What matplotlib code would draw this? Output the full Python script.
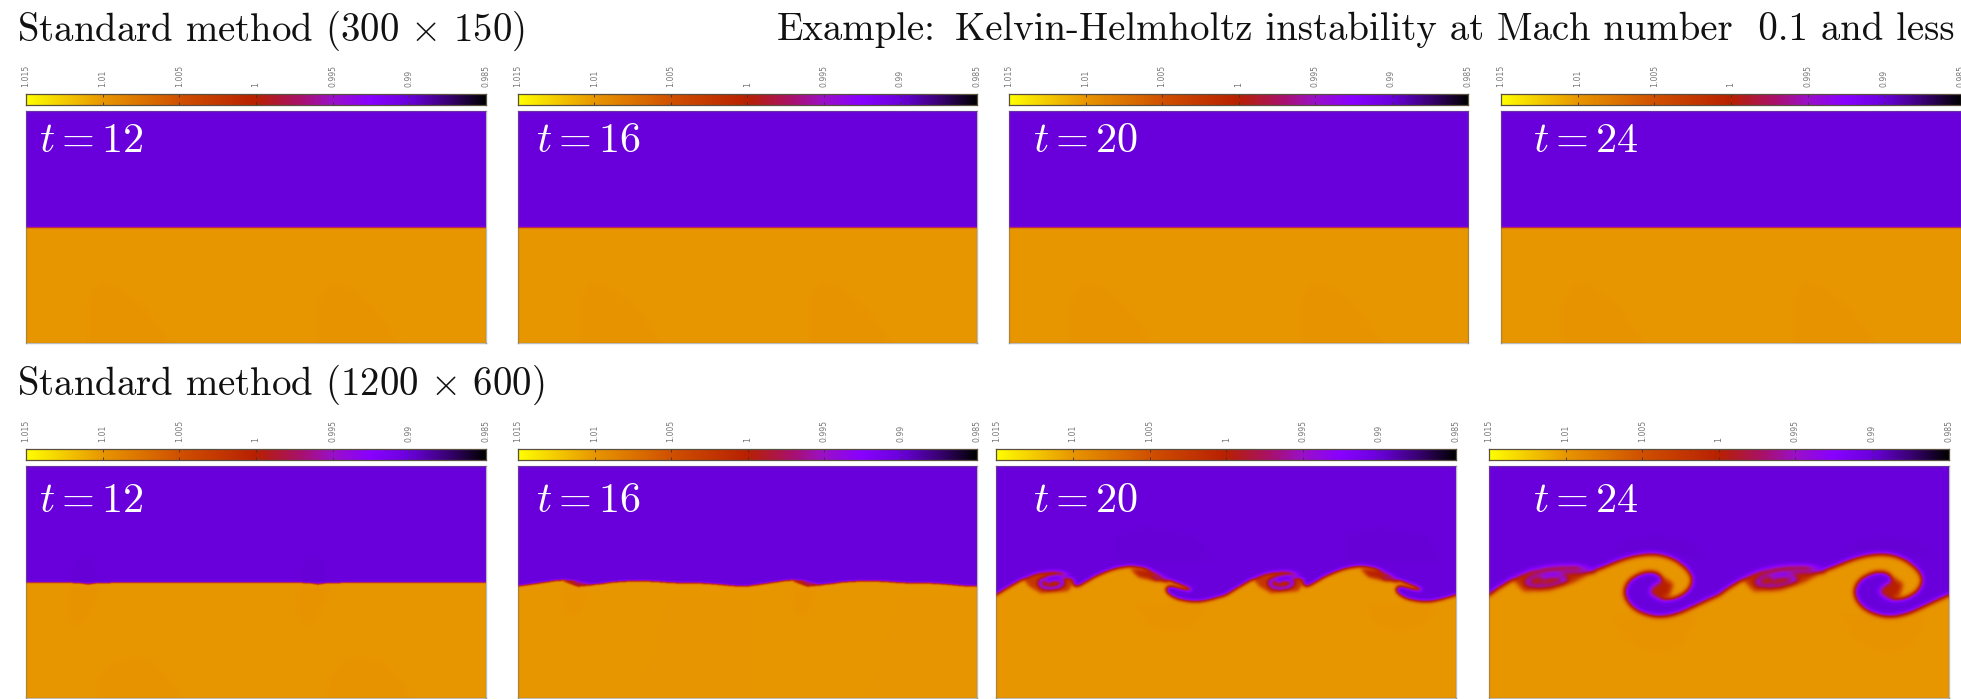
import numpy as np
import matplotlib
matplotlib.use('Agg')
import matplotlib.pyplot as plt
from matplotlib.colors import LinearSegmentedColormap
from matplotlib.path import Path

plt.rcParams['mathtext.fontset'] = 'cm'
plt.rcParams['axes.unicode_minus'] = False

W, H = 1961, 699
PW, PH = 460, 232  # panel size, the flow repeats twice across it
SS = 2

# colour scale
bar_ticks = [1.015, 1.01, 1.005, 1.0, 0.995, 0.99, 0.985]
bar_labels = ['1.015', '1.01', '1.005', '1', '0.995', '0.99', '0.985']
cmap_pos = [0, 1/6, 1/3, 1/2, 0.6, 2/3, 0.75, 5/6, 0.92, 1]
cmap_col = ['#ffff00', '#e89600', '#d05000', '#b82000', '#a81070', '#9a10c8',
            '#8800ff', '#6a00dc', '#380070', '#000000']
heavy_val = 1.01
light_val = 0.99

times = [12, 16, 20, 24]

# interface of one period, x from left, y from top, in panel pixels
flat_low = [(0, 116.7), (230, 116.7)]
edge_12 = [(0, 116.6), (47, 116.6), (62, 117.4), (78, 116.6), (230, 116.6)]
edge_16 = [(0, 120), (15, 118), (28, 116), (42, 114), (55, 114.5), (67, 117), (73, 118.5),
           (82, 118), (95, 116), (112, 115), (132, 115), (158, 117), (182, 117),
           (198, 118), (218, 120), (230, 120)]
edge_20 = [(0, 129), (13, 121), (27, 113), (43, 107), (60, 105), (73, 108), (78, 114),
           (77, 119), (81, 121), (90, 116), (100, 110), (117, 103), (133, 100), (150, 102),
           (163, 108), (172, 114), (183, 118), (198, 124), (190, 124), (180, 121),
           (172, 119.5), (169, 125), (178, 132), (190, 135), (203, 136), (217, 133), (230, 129)]
edge_24 = [(0, 129), (11, 121), (28, 111), (48, 103), (68, 100), (88, 100), (103, 103),
           (108, 104), (120, 99), (135, 93), (151, 89), (168, 88), (185, 93), (198, 103),
           (204, 113), (200, 124), (188, 132), (173, 134), (163, 130), (160, 124), (166, 119),
           (174, 114), (171, 108), (161, 105), (150, 108), (140, 114), (135, 124), (137, 134),
           (146, 144), (161, 150), (175, 151), (191, 147), (208, 139), (221, 133), (230, 129)]

# thin tongues of light fluid wound into the heavy side: (points, width)
arms_20 = [([(78, 111), (62, 110), (47, 113), (42, 118), (50, 123), (65, 121), (68, 115),
             (58, 113), (52, 116)], 3.0),
           ([(172, 115.5), (157, 112)], 1.5)]
arms_24 = [([(105, 105), (88, 105), (68, 106), (48, 109), (36, 115), (41, 120), (61, 120),
             (80, 114), (71, 110), (60, 110), (53, 113)], 2.6)]

# mixed red zones on the heavy side: (points, heavy fraction left)
mix_12 = [([(47, 116), (62, 116.5), (78, 116), (62, 118.4)], 0.3)]
mix_16 = [([(45, 115), (60, 115.5), (76, 119), (60, 120.5)], 0.4)]
mix_20 = [([(28, 113), (60, 103), (80, 112), (72, 125), (45, 127), (33, 120)], 0.62),
          ([(135, 103), (160, 105), (173, 114), (160, 115), (143, 111)], 0.5)]
mix_24 = [([(25, 114), (60, 98), (108, 103), (85, 116), (60, 124), (35, 125)], 0.55),
          ([(160, 119), (175, 112), (184, 118), (180, 130), (165, 134), (157, 126)], 0.5)]

# faint tone patches in the flat regions: (points, offset)
shade_low = [([(60, 232), (60, 190), (70, 172), (78, 169), (95, 175), (120, 195), (146, 232)], -0.00016)]
shade_12 = [([(42, 118), (39, 140), (44, 157), (52, 162), (62, 155), (72, 135), (76, 118)], -0.00016),
            ([(44, 116), (46, 100), (55, 91), (67, 93), (71, 105), (71, 116)], -0.00012),
            ([(67, 232), (72, 210), (85, 195), (105, 189), (125, 193), (145, 210), (157, 232)], -0.00016)]
shade_16 = [([(42, 120), (43, 140), (52, 153), (62, 148), (72, 125)], -0.00016),
            ([(118, 232), (140, 170), (150, 130), (230, 130), (230, 232)], -0.00008)]
shade_20 = [([(137, 138), (150, 160), (175, 168), (200, 160), (212, 140), (180, 135)], -0.00018),
            ([(118, 70), (150, 60), (200, 70), (218, 95), (120, 95)], -0.0001)]
shade_24 = [([(118, 146), (135, 175), (165, 190), (195, 180), (212, 146), (170, 152)], -0.00018),
            ([(118, 90), (140, 74), (170, 70), (200, 76), (218, 92), (170, 86)], -0.00015)]

# row 1 then row 2, one entry per time
row1_edges = [flat_low, flat_low, flat_low, flat_low]
row2_edges = [edge_12, edge_16, edge_20, edge_24]
row1_arms = [[], [], [], []]
row2_arms = [[], [], arms_20, arms_24]
row1_mix = [[], [], [], []]
row2_mix = [mix_12, mix_16, mix_20, mix_24]
row1_shades = [shade_low, shade_low, shade_low, shade_low]
row2_shades = [shade_12, shade_16, shade_20, shade_24]
row1_sigma = [0.6, 0.6, 0.6, 0.6]
row2_sigma = [0.6, 0.9, 1.8, 2.4]

# pixel layout
row1_x = [(26, 486), (518, 976.5), (1009, 1468), (1501, 1961)]
row2_x = [(26, 486), (518, 977), (996.5, 1456), (1489, 1948.5)]
row1_bar_y, row1_img_y = (94, 105), (111, 343)
row2_bar_y, row2_img_y = (449, 460.3), (466, 697.8)
label_x = [39, 536, 1033, 1533]
row1_label_y, row2_label_y = 152, 512


def px_axes(x0, x1, y0, y1):
    return fig.add_axes([x0 / W, 1 - y1 / H, (x1 - x0) / W, (y1 - y0) / H])


def smooth(pts, n=2):
    pts = np.array(pts, float)
    for _ in range(n):
        a, b = pts[:-1], pts[1:]
        cut = np.empty((2 * len(a), 2))
        cut[0::2] = 0.75 * a + 0.25 * b
        cut[1::2] = 0.25 * a + 0.75 * b
        pts = np.vstack([pts[:1], cut, pts[-1:]])
    return pts


def blur(a, sigma):
    s = sigma * SS
    r = int(4 * s) + 1
    k = np.exp(-0.5 * (np.arange(-r, r + 1) / s) ** 2)
    k /= k.sum()
    a = np.pad(a, r, mode='edge')
    a = np.apply_along_axis(lambda m: np.convolve(m, k, mode='same'), 0, a)
    a = np.apply_along_axis(lambda m: np.convolve(m, k, mode='same'), 1, a)
    return a[r:-r, r:-r]


xs = (np.arange(PW * SS) + 0.5) / SS
ys = (np.arange(PH * SS) + 0.5) / SS
gx, gy = np.meshgrid(xs, ys)
grid_pts = np.column_stack([gx.ravel(), gy.ravel()])


def inside(pts):
    return Path(pts).contains_points(grid_pts).reshape(gx.shape)


def near_line(pts, width):
    d = np.full(gx.shape, np.inf)
    for (x0, y0), (x1, y1) in zip(pts[:-1], pts[1:]):
        dx, dy = x1 - x0, y1 - y0
        t = np.clip(((gx - x0) * dx + (gy - y0) * dy) / max(dx * dx + dy * dy, 1e-9), 0, 1)
        d = np.minimum(d, np.hypot(gx - x0 - t * dx, gy - y0 - t * dy))
    return d < width / 2


def make_field(edge, arms, mixes, shades, sigma):
    e = smooth(edge)
    outline = np.vstack([e, e[1:] + [230, 0], [[460, 232], [0, 232]]])
    heavy = inside(outline).astype(float)
    for patch, frac in mixes:
        for shift in (0, 230):
            p = np.array(patch, float) + [shift, 0]
            heavy[inside(p)] *= frac
    for arm, width in arms:
        a = smooth(arm)
        for shift in (0, 230):
            heavy[near_line(a + [shift, 0], width)] = 0
    f = light_val + (heavy_val - light_val) * heavy
    for patch, offset in shades:
        for shift in (0, 230):
            p = np.array(patch, float) + [shift, 0]
            f = f + offset * blur(inside(p).astype(float), 2.0)
    return blur(f, sigma)


# scale runs from 1.015 (yellow) down to 0.985 (black)
cmap = LinearSegmentedColormap.from_list('kh', list(zip(cmap_pos, cmap_col)), N=512).reversed()
fig = plt.figure(figsize=(W / 100, H / 100), dpi=100, facecolor='white')


def draw_panel(xr, bar_y, img_y, edge, arms, mixes, shades, sigma, t, tx, ty):
    # colorbar on top
    cb = px_axes(xr[0], xr[1], bar_y[0], bar_y[1])
    grad = np.linspace(bar_ticks[0], bar_ticks[-1], 512)[None, :]
    cb.imshow(grad, cmap=cmap, vmin=0.985, vmax=1.015, aspect='auto',
              extent=[bar_ticks[0], bar_ticks[-1], 0, 1])
    cb.set_yticks([])
    cb.set_xticks(bar_ticks)
    cb.set_xticklabels(bar_labels)
    cb.tick_params(axis='x', direction='in', top=True, bottom=True, labeltop=True, labelbottom=False,
                   length=2.2, width=0.6, color='#333333', labelsize=5.6, labelcolor='#777777',
                   labelrotation=90, pad=5)
    for s in cb.spines.values():
        s.set_linewidth(0.9)
        s.set_edgecolor('#5a5040')

    # density field
    ax = px_axes(xr[0], xr[1], img_y[0], img_y[1])
    ax.imshow(make_field(edge, arms, mixes, shades, sigma), cmap=cmap, vmin=0.985, vmax=1.015,
              aspect='auto', extent=[0, PW, PH, 0], interpolation='bilinear')
    ax.set_xticks([])
    ax.set_yticks([])
    for s in ax.spines.values():
        s.set_linewidth(1.0)
        s.set_edgecolor((0.42, 0.42, 0.42, 0.45))

    fig.text(tx / W, 1 - ty / H, r'$t = %d$' % t, color='white', fontsize=30.4,
             ha='left', va='baseline')


for i, t in enumerate(times):
    draw_panel(row1_x[i], row1_bar_y, row1_img_y, row1_edges[i], row1_arms[i], row1_mix[i], row1_shades[i],
               row1_sigma[i], t, label_x[i], row1_label_y)
    draw_panel(row2_x[i], row2_bar_y, row2_img_y, row2_edges[i], row2_arms[i], row2_mix[i], row2_shades[i],
               row2_sigma[i], t, label_x[i], row2_label_y)

head = dict(family='cmr10', fontsize=27.95, color='#111111', ha='left', va='baseline')
fig.text(17 / W, 1 - 40.5 / H, r'Standard method (300$\,\times\,$150)', **head)
fig.text(17 / W, 1 - 395 / H, r'Standard method (1200$\,\times\,$600)', **head)
fig.text(777 / W, 1 - 40.5 / H, 'Example:', **head)
fig.text(955 / W, 1 - 40.5 / H, 'Kelvin-Helmholtz instability at Mach number  0.1 and less', **head)

fig.savefig('out.png', dpi=100)
